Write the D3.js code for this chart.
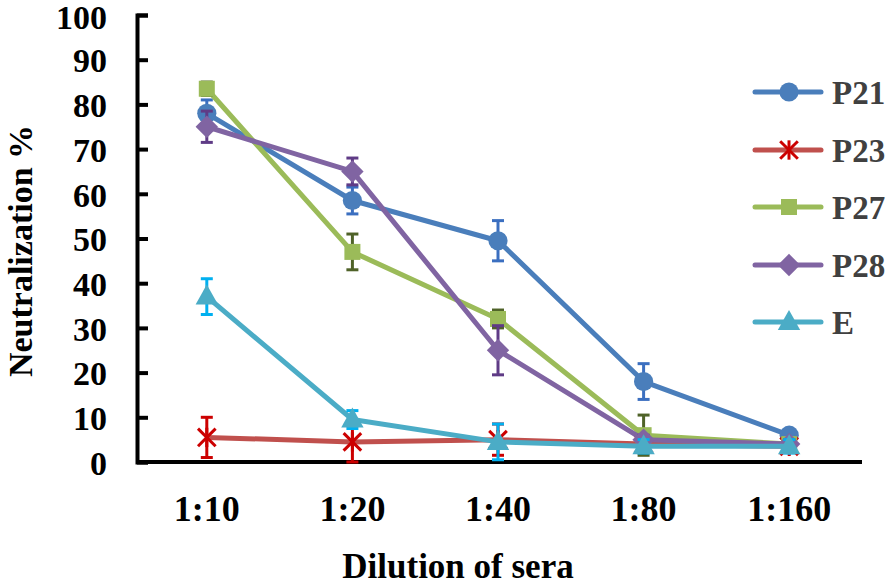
<!DOCTYPE html>
<html><head><meta charset="utf-8">
<script src="https://cdn.jsdelivr.net/npm/d3@7"></script>
<style>body{margin:0;background:#fff}svg{display:block}</style>
</head><body><svg id="c" width="894" height="587"></svg>
<script>
const categories = ["1:10","1:20","1:40","1:80","1:160"];
const seriesNames = ["P21","P23","P27","P28","E"];
const P21 = [78, 58.5, 49.5, 18, 6];
const P23 = [5.5, 4.5, 5, 4, 3.5];
const P27 = [83.5, 47, 32, 6, 4];
const P28 = [75, 65, 25, 5, 4];
const E   = [37, 9.5, 4.5, 3.5, 3.5];
const P21err = [3, 3, 4.5, 4, 1];
const P23err = [4.5, 4.5, 3.5, 1, 1];
const P27err = [1.5, 4, 2, 4.5, 1];
const P28err = [3.5, 3, 5.5, 1, 1];
const Eerr   = [4, 2, 4, 1.5, 1.5];
const yTicks = [0,10,20,30,40,50,60,70,80,90,100];

const styles = {
  P21:{line:"#4a7ebb", marker:"#4a7ebb", err:"#3b6fc0", shape:"circle"},
  P23:{line:"#c0504d", marker:"#cc0000", err:"#cc0000", shape:"star"},
  P27:{line:"#9bbb59", marker:"#9bbb59", err:"#4f6228", shape:"square"},
  P28:{line:"#8064a2", marker:"#8064a2", err:"#5f3b86", shape:"diamond"},
  E:  {line:"#4bacc6", marker:"#4bacc6", err:"#00b0f0", shape:"triangle"}
};
const series = seriesNames.map((n,i)=>({name:n, v:[P21,P23,P27,P28,E][i], e:[P21err,P23err,P27err,P28err,Eerr][i]}));

const FF = '"Liberation Serif"';
const svg = d3.select("#c");
const x = d3.scaleBand().domain(categories).range([134, 862]);
const y = d3.scaleLinear().domain([0,100]).range([462, 15]);
const cx = c => x(c) + x.bandwidth()/2;

// axes
const yAxis = d3.axisLeft(y).tickValues(yTicks).tickSize(-11).tickPadding(30);
const gy = svg.append("g").attr("transform","translate(137,0)").call(yAxis);
gy.select(".domain").attr("stroke","#000").attr("stroke-width",4);
gy.selectAll(".tick line").attr("stroke","#000").attr("stroke-width",4);
gy.selectAll(".tick text").style("font-family",FF).attr("font-weight","bold")
  .attr("font-size",34).attr("fill","#000").attr("dy","0.36em");
gy.selectAll(".tick").filter(d=>d===100).select("text").attr("dy","0.4em");

const xAxis = d3.axisBottom(x).tickSize(0).tickPadding(33);
const gx = svg.append("g").attr("transform","translate(0,462)").call(xAxis);
gx.select(".domain").attr("stroke","#000").attr("stroke-width",4).attr("d","M137,0H862");
gx.selectAll(".tick text").style("font-family",FF).attr("font-weight","bold")
  .attr("font-size",36).attr("fill","#000");

// axis titles
svg.append("text").attr("x",458).attr("y",578).attr("text-anchor","middle").style("font-family",FF)
  .attr("font-weight","bold").attr("font-size",35).text("Dilution of sera");
svg.append("text").attr("transform","translate(32,251) rotate(-90)").attr("text-anchor","middle").style("font-family",FF)
  .attr("font-weight","bold").attr("font-size",34).text("Neutralization %");

function marker(g, shape, col, px, py, s) {
  if (shape==="circle") g.append("circle").attr("cx",px).attr("cy",py).attr("r",s*0.6).attr("fill",col);
  else if (shape==="square") g.append("rect").attr("x",px-s*0.5).attr("y",py-s*0.5).attr("width",s).attr("height",s).attr("fill",col);
  else if (shape==="diamond") g.append("path").attr("d",`M${px},${py-s*0.7}L${px+s*0.7},${py}L${px},${py+s*0.7}L${px-s*0.7},${py}Z`).attr("fill",col);
  else if (shape==="triangle") g.append("path").attr("d",`M${px},${py-s*0.75}L${px+s*0.7},${py+s*0.5}L${px-s*0.7},${py+s*0.5}Z`).attr("fill",col);
  else if (shape==="star") {
    const r = s*0.55;
    const gg = g.append("g").attr("stroke",col).attr("stroke-width",3);
    [[-r,-r,r,r],[-r,r,r,-r],[0,-r*1.1,0,r*1.1]].forEach(d=>gg.append("line")
      .attr("x1",px+d[0]).attr("y1",py+d[1]).attr("x2",px+d[2]).attr("y2",py+d[3]));
  }
}

const line = d3.line().x((d,i)=>cx(categories[i])).y(d=>y(d));
series.forEach(s=>{
  const st = styles[s.name];
  const g = svg.append("g");
  g.append("path").datum(s.v).attr("d",line).attr("fill","none")
    .attr("stroke",st.line).attr("stroke-width",5).attr("stroke-linejoin","round");
  s.v.forEach((v,i)=>{
    const px = cx(categories[i]);
    const lo = Math.max(0, v - s.e[i]), hi = v + s.e[i];
    const eg = g.append("g").attr("stroke",st.err).attr("stroke-width",3);
    eg.append("line").attr("x1",px).attr("x2",px).attr("y1",y(lo)).attr("y2",y(hi));
    eg.append("line").attr("x1",px-6).attr("x2",px+6).attr("y1",y(lo)).attr("y2",y(lo));
    eg.append("line").attr("x1",px-6).attr("x2",px+6).attr("y1",y(hi)).attr("y2",y(hi));
  });
  s.v.forEach((v,i)=>marker(g, st.shape, st.marker, cx(categories[i]), y(v), 16));
});

// legend
const legY = [92, 150, 207, 265, 322];
series.forEach((s,i)=>{
  const st = styles[s.name];
  const g = svg.append("g");
  g.append("line").attr("x1",755).attr("x2",821).attr("y1",legY[i]).attr("y2",legY[i])
    .attr("stroke",st.line).attr("stroke-width",5).attr("stroke-linecap","round");
  marker(g, st.shape, st.marker, 789, legY[i], 16);
  g.append("text").attr("x",832).attr("y",legY[i]+12).style("font-family",FF)
    .attr("font-weight","bold").attr("font-size",33).attr("fill","#404040").text(s.name);
});
</script></body></html>
